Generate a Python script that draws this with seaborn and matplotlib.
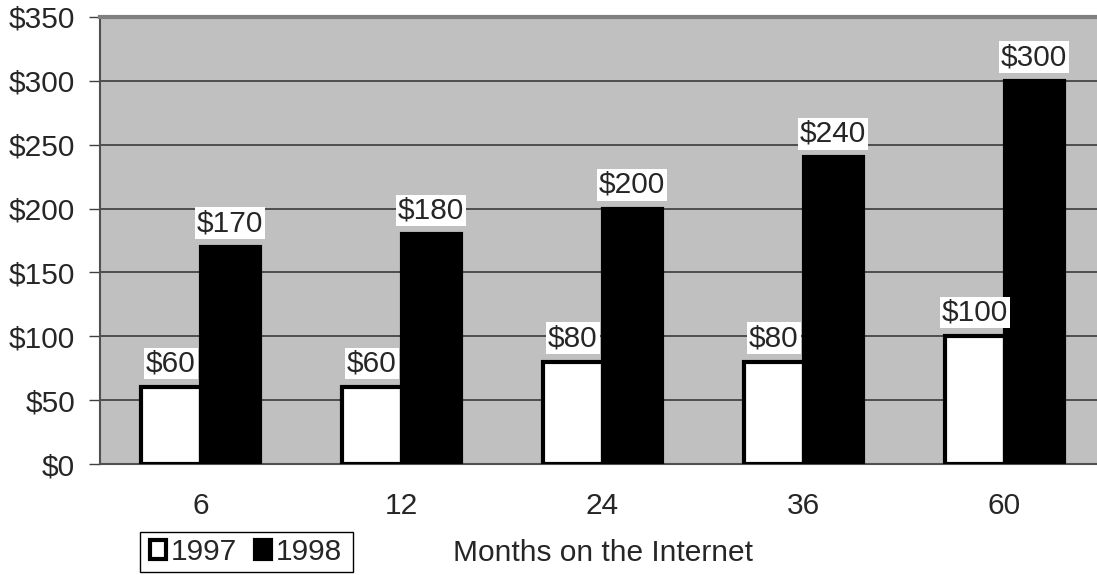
import matplotlib
matplotlib.use("Agg")
import matplotlib.pyplot as plt
from matplotlib.patches import Patch, Rectangle
import pandas as pd
import seaborn as sns

months = ["6", "12", "24", "36", "60"]
years = ["1997", "1998"]
spend_1997 = [60, 60, 80, 80, 100]
spend_1998 = [170, 180, 200, 240, 300]
y_ticks = [0, 50, 100, 150, 200, 250, 300, 350]

df = pd.DataFrame({
    "Months": months * 2,
    "Year": [years[0]] * len(months) + [years[1]] * len(months),
    "Spend": spend_1997 + spend_1998,
})

sns.set_theme(style="white")
plt.rcParams["font.family"] = ["Liberation Sans", "DejaVu Sans"]
FS = 21.5

W, H = 1097, 575
fig = plt.figure(figsize=(W / 100, H / 100), dpi=100)
ax = fig.add_axes([100 / W, (H - 464) / H, (1105 - 100) / W, 447 / H])
ax.set_facecolor("#c0c0c0")

sns.barplot(
    data=df, x="Months", y="Spend", hue="Year", order=months, hue_order=years,
    palette={"1997": "white", "1998": "black"}, width=0.588,
    edgecolor="black", linewidth=3, saturation=1, legend=False, ax=ax, zorder=3,
)

for container in ax.containers:
    vals = [b.get_height() for b in container]
    ax.bar_label(
        container, labels=[f"${v:.0f}" for v in vals], padding=7, fontsize=FS,
        bbox=dict(facecolor="white", edgecolor="none", pad=1.2), zorder=6,
    )

ax.set_ylim(0, 350)
ax.set_yticks(y_ticks)
ax.set_yticklabels([f"${v}" for v in y_ticks], fontsize=FS)
ax.set_xlim(-0.5, len(months) - 0.5)
ax.set_xticks(range(len(months)))
ax.set_xticklabels(months, fontsize=FS)
ax.set_xticks([i - 0.5 for i in range(len(months) + 1)], minor=True)
ax.tick_params(axis="x", which="major", length=0, pad=20)
ax.tick_params(axis="x", which="minor", length=8, width=1, color="#404040", direction="out")
ax.tick_params(axis="y", length=8, width=1, color="#404040", direction="out", pad=10, left=True)
ax.yaxis.grid(True, color="#3a3a3a", linewidth=1.2, zorder=1)
ax.set_axisbelow(True)

ax.set_xlabel("")
ax.set_ylabel("")
for side in ["left", "bottom"]:
    ax.spines[side].set_color("#505050")
    ax.spines[side].set_linewidth(1.5)
ax.spines["top"].set_color("#808080")
ax.spines["top"].set_linewidth(3)
ax.spines["right"].set_visible(False)

fig.text(603 / W, 1 - 553 / H, "Months on the Internet", fontsize=FS, ha="center", va="center")

# legend entries, with a plain rectangular frame drawn around them
handles = [
    Patch(facecolor="white", edgecolor="black", linewidth=3, label=years[0]),
    Patch(facecolor="black", edgecolor="black", linewidth=3, label=years[1]),
]
fig.legend(
    handles=handles, loc="center left", bbox_to_anchor=(150 / W, 1 - 552 / H),
    ncol=2, fontsize=FS, frameon=False,
    handlelength=0.55, handleheight=0.6, handletextpad=0.15,
    columnspacing=0.6, borderpad=0, borderaxespad=0,
)
fig.patches.append(Rectangle(
    (140 / W, 1 - 572 / H), (353 - 140) / W, 40 / H, transform=fig.transFigure,
    facecolor="none", edgecolor="black", linewidth=1,
))

fig.savefig("out.png", dpi=100)
